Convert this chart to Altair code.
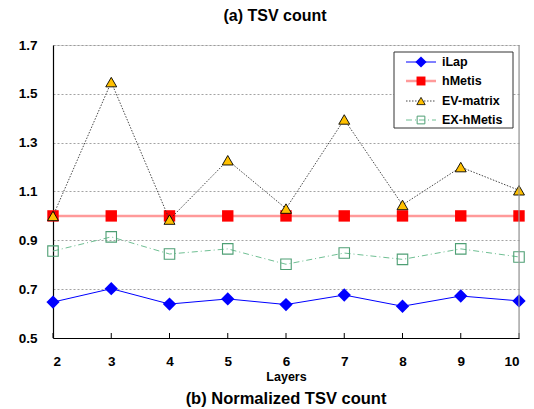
import altair as alt
import pandas as pd

# ---- data ----
layers = [2, 3, 4, 5, 6, 7, 8, 9, 10]
ilap = [0.647, 0.702, 0.639, 0.660, 0.637, 0.676, 0.630, 0.672, 0.652]
hmetis = [1.0, 1.0, 1.0, 1.0, 1.0, 1.0, 1.0, 1.0, 1.0]
ev_matrix = [1.0, 1.548, 0.985, 1.228, 1.030, 1.395, 1.045, 1.200, 1.105]
ex_hmetis = [0.856, 0.914, 0.844, 0.865, 0.802, 0.848, 0.822, 0.865, 0.832]
y_ticks = [0.5, 0.7, 0.9, 1.1, 1.3, 1.5, 1.7]
legend_labels = ["iLap", "hMetis", "EV-matrix", "EX-hMetis"]
top_title = "(a) TSV count"
bottom_title_text = "(b) Normalized  TSV count"

FONT = "Liberation Sans"
W, H = 466, 293

def frame(vals):
    return pd.DataFrame({"Layers": layers, "value": vals})

x_enc = alt.X(
    "Layers:Q",
    scale=alt.Scale(domain=[2, 10], nice=False, zero=False),
    axis=alt.Axis(values=layers, title="Layers", grid=False, ticks=False, tickSize=0,
                  labelPadding=16, labelFont=FONT, labelFontSize=13.5, labelFontWeight="bold",
                  labelColor="black", titleFont=FONT, titleFontSize=12.5, titleFontWeight="bold",
                  titleColor="black", titlePadding=3, domainColor="black", domainWidth=1.2,
                  format="d"),
)
y_enc = alt.Y(
    "value:Q",
    scale=alt.Scale(domain=[0.5, 1.7], nice=False, zero=False),
    axis=alt.Axis(values=y_ticks, title=None, grid=True, gridDash=[2, 2], gridColor="#8c8c8c",
                  gridWidth=0.8, ticks=False, tickSize=0, labelPadding=16, labelFont=FONT,
                  labelFontSize=13.5, labelFontWeight="bold", labelColor="black",
                  domainColor="black", domainWidth=1.2, format=".1f"),
)

def series(vals, line_kw, point_kw):
    base = alt.Chart(frame(vals))
    ln = base.mark_line(**line_kw).encode(x=x_enc, y=y_enc)
    pt = base.mark_point(**point_kw).encode(x=x_enc, y=y_enc)
    return ln + pt

ex_layer = series(ex_hmetis,
                  dict(color="#6fbf93", strokeWidth=1, strokeDash=[6, 3, 1, 3]),
                  dict(shape="square", size=110, filled=False, stroke="#4e9f74", strokeWidth=1.1, opacity=1))
ilap_layer = series(ilap,
                    dict(color="#0000ff", strokeWidth=1),
                    dict(shape="diamond", size=110, filled=True, fill="#0000ff", stroke="#0000ff", opacity=1))
hm_layer = series(hmetis,
                  dict(color="#ff9a9a", strokeWidth=2.5),
                  dict(shape="square", size=130, filled=True, fill="#ff0000", stroke="#ff0000", strokeWidth=0, opacity=1))
ev_layer = series(ev_matrix,
                  dict(color="#333333", strokeWidth=0.9, strokeDash=[1.5, 1.5]),
                  dict(shape="triangle-up", size=120, filled=True, fill="#ffc000", stroke="black", strokeWidth=0.9, opacity=1))

tick_df = pd.DataFrame({"Layers": layers})
inner_ticks = alt.Chart(tick_df).mark_rule(color="black", strokeWidth=1).encode(
    x=alt.X("Layers:Q", scale=alt.Scale(domain=[2, 10], nice=False, zero=False)),
    y=alt.value(H), y2=alt.value(H - 5))

one = pd.DataFrame({"a": [0]})
right_border = alt.Chart(one).mark_rule(color="#9a9a9a", strokeWidth=1.2).encode(
    x=alt.value(W), y=alt.value(0), y2=alt.value(H))

# ---- legend (drawn) ----
leg_box = alt.Chart(one).mark_rect(fill="white", stroke="#333333", strokeWidth=1).encode(
    x=alt.value(341), x2=alt.value(460), y=alt.value(7), y2=alt.value(83))
leg_y = [17, 36, 56, 75]
leg_line = [dict(color="#0000ff", strokeWidth=1),
            dict(color="#ff9a9a", strokeWidth=2.5),
            dict(color="#333333", strokeWidth=0.9, strokeDash=[1.5, 1.5]),
            dict(color="#6fbf93", strokeWidth=1, strokeDash=[6, 3, 1, 3])]
leg_pt = [dict(shape="diamond", size=70, filled=True, fill="#0000ff", stroke="#0000ff", opacity=1),
          dict(shape="square", size=80, filled=True, fill="#ff0000", strokeWidth=0, opacity=1),
          dict(shape="triangle-up", size=70, filled=True, fill="#ffc000", stroke="black", strokeWidth=0.8, opacity=1),
          dict(shape="square", size=60, filled=False, stroke="#4e9f74", strokeWidth=1, opacity=1)]
leg_layers = [leg_box]
for i, name in enumerate(legend_labels):
    yy = leg_y[i]
    leg_layers.append(alt.Chart(one).mark_rule(**leg_line[i]).encode(
        x=alt.value(353), x2=alt.value(383), y=alt.value(yy)))
    leg_layers.append(alt.Chart(one).mark_point(**leg_pt[i]).encode(
        x=alt.value(368), y=alt.value(yy)))
    leg_layers.append(alt.Chart(one).mark_text(
        align="left", baseline="middle", font=FONT, fontSize=12.5, fontWeight="bold", color="black").encode(
        x=alt.value(389), y=alt.value(yy), text=alt.value(name)))

title_style = dict(align="center", baseline="middle", font=FONT,
                   fontWeight="bold", color="black")
title_top = alt.Chart(one).mark_text(fontSize=16, **title_style).encode(
    x=alt.value(222), y=alt.value(-29), text=alt.value(top_title))
title_bottom = alt.Chart(one).mark_text(fontSize=16.5, **title_style).encode(
    x=alt.value(W / 2), y=alt.value(354), text=alt.value(bottom_title_text))

chart = alt.layer(
    ex_layer, ilap_layer, hm_layer, ev_layer, inner_ticks, right_border,
    *leg_layers, title_top, title_bottom
).properties(
    width=W, height=H,
    autosize=alt.AutoSizeParams(type="none"),
    padding={"left": 45, "top": 37, "right": 7, "bottom": 75},
).configure_view(stroke=None).configure(background="white")

chart.save("out.html", embed_options={"renderer": "svg", "actions": False})
